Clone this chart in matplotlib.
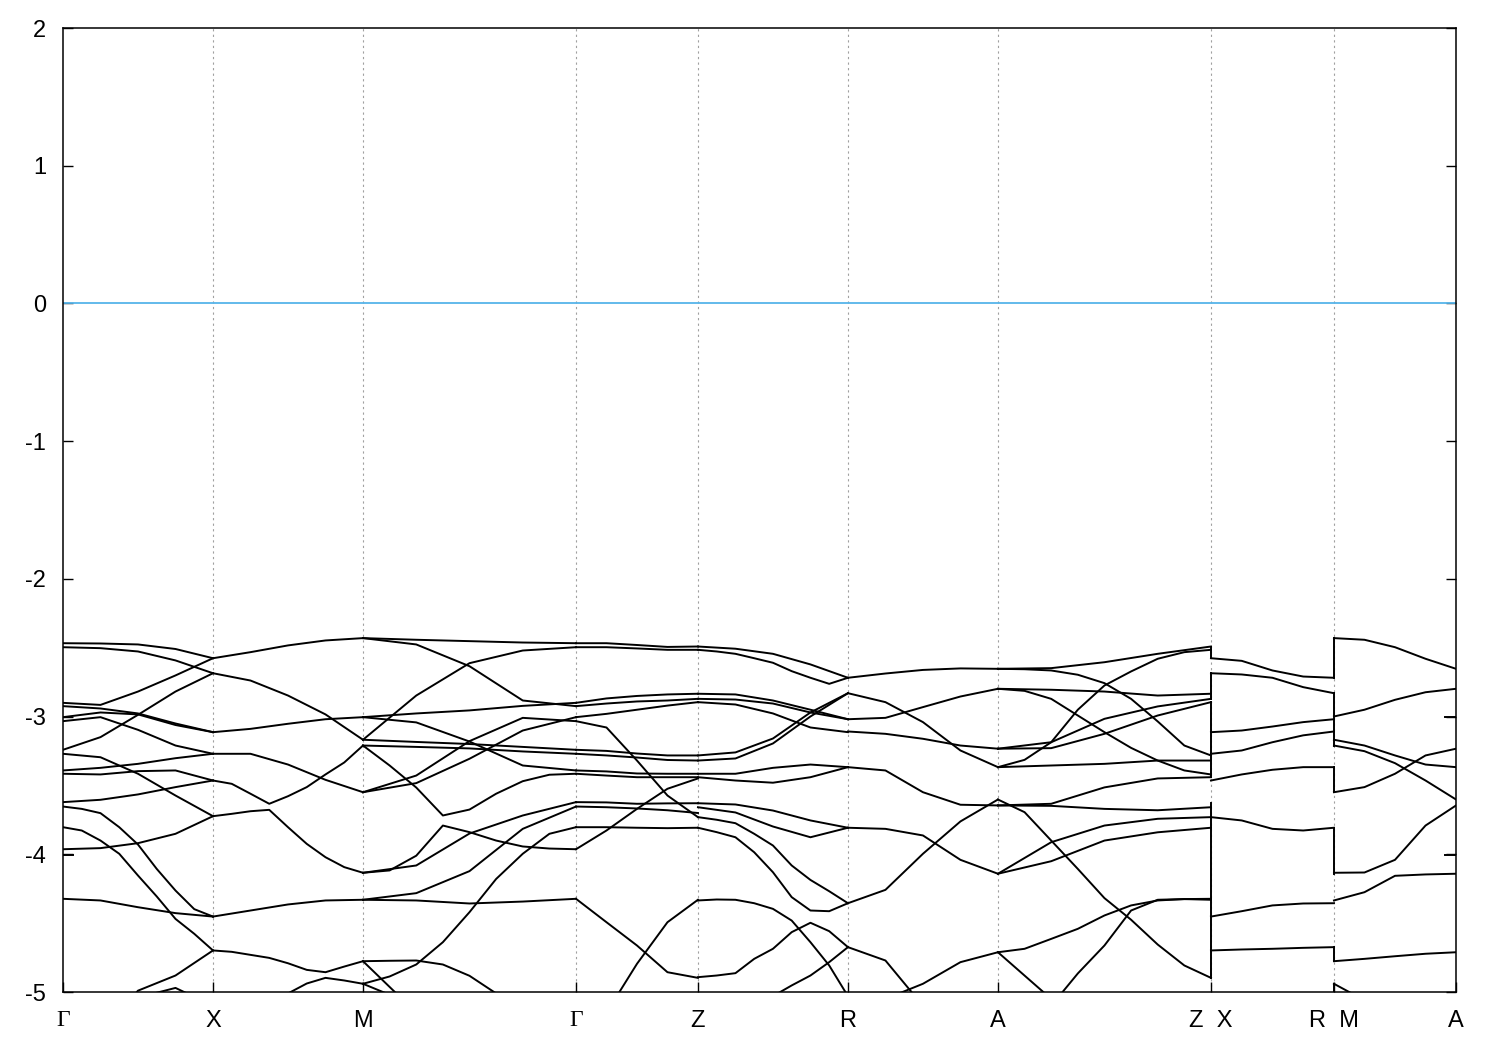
import matplotlib
matplotlib.use("Agg")
import matplotlib.pyplot as plt

# k-path: high symmetry points (path length units)
k_nodes = [0.0, 1.0, 2.0, 3.42, 4.233, 5.233, 6.233, 7.653, 8.473, 9.287]
k_labels = ["Γ", "X", "M", "Γ", "Z", "R", "A", "Z  X", "R  M", "A"]
# sample positions inside each segment (5 or 9 samples per band)
frac5 = [0.0, 0.25, 0.5, 0.75, 1.0]
frac9 = [0.0, 0.125, 0.25, 0.375, 0.5, 0.625, 0.75, 0.875, 1.0]

# band energies (eV) sampled along each segment
gx_bands = [
    [-2.467, -2.469, -2.476, -2.509, -2.576],
    [-2.496, -2.503, -2.527, -2.592, -2.685],
    [-2.900, -2.915, -2.818, -2.701, -2.576],
    [-3.241, -3.149, -2.987, -2.818, -2.685],
    [-2.924, -2.941, -2.977, -3.050, -3.113],
    [-3.004, -2.970, -2.984, -3.061, -3.113],
    [-3.033, -3.004, -3.096, -3.210, -3.270],
    [-3.270, -3.295, -3.415, -3.573, -3.723],
    [-3.391, -3.372, -3.343, -3.302, -3.270],
    [-3.415, -3.420, -3.396, -3.391, -3.464],
    [-3.621, -3.604, -3.565, -3.512, -3.464],
    [-3.653, -3.670, -3.701, -3.803, -3.929, -4.106, -4.263, -4.398, -4.452],
    [-3.803, -3.827, -3.900, -3.996, -4.154, -4.306, -4.469, -4.577, -4.698],
    [-3.963, -3.955, -3.919, -3.851, -3.723],
    [-4.323, -4.335, -4.384, -4.427, -4.452],
    [-5.600, -5.300, -4.990, -4.880, -4.698],
    [-5.600, -5.300, -5.040, -4.970, -5.100],
]

xm_bands = [
    [-2.576, -2.532, -2.483, -2.447, -2.430],
    [-2.685, -2.738, -2.847, -2.984, -3.168],
    [-3.113, -3.089, -3.052, -3.019, -3.004],
    [-3.270, -3.270, -3.348, -3.459, -3.549],
    [-3.464, -3.488, -3.560, -3.633, -3.578, -3.512, -3.420, -3.333, -3.210],
    [-3.723, -3.706, -3.687, -3.677, -3.803, -3.924, -4.021, -4.093, -4.134],
    [-4.452, -4.408, -4.364, -4.335, -4.330],
    [-4.698, -4.708, -4.730, -4.752, -4.791, -4.839, -4.856, -4.815, -4.776],
    [-5.600, -5.450, -5.300, -5.120, -5.010, -4.938, -4.897, -4.916, -4.940],
]

mg_bands = [
    [-2.430, -2.442, -2.452, -2.462, -2.467],
    [-3.168, -2.847, -2.612, -2.520, -2.496],
    [-2.430, -2.476, -2.634, -2.883, -2.924],
    [-3.004, -2.977, -2.955, -2.922, -2.900],
    [-3.004, -3.042, -3.181, -3.355, -3.391],
    [-3.168, -3.184, -3.199, -3.220, -3.241],
    [-3.210, -3.220, -3.231, -3.253, -3.270],
    [-3.210, -3.355, -3.515, -3.718, -3.675, -3.560, -3.469, -3.422, -3.415],
    [-3.549, -3.428, -3.178, -3.009, -3.033],
    [-3.549, -3.483, -3.306, -3.101, -3.004],
    [-4.134, -4.117, -4.010, -3.791, -3.839, -3.900, -3.943, -3.958, -3.963],
    [-4.134, -4.081, -3.849, -3.718, -3.621],
    [-4.330, -4.335, -4.357, -4.343, -4.323],
    [-4.330, -4.282, -4.122, -3.815, -3.653],
    [-4.776, -4.773, -4.771, -4.800, -4.882, -5.010, -5.200, -5.400, -5.600],
    [-4.940, -4.887, -4.800, -4.638, -4.420, -4.179, -3.996, -3.851, -3.803],
    [-4.776, -5.150, -5.500, -5.800, -6.000],
    [-4.940, -5.100, -5.400, -5.700, -6.000],
]

gz_bands = [
    [-2.467, -2.467, -2.480, -2.494, -2.491],
    [-2.496, -2.496, -2.505, -2.515, -2.515],
    [-2.900, -2.868, -2.850, -2.839, -2.834],
    [-2.924, -2.905, -2.890, -2.883, -2.871],
    [-3.004, -2.980, -2.950, -2.920, -2.895],
    [-3.033, -3.079, -3.319, -3.573, -3.730],
    [-3.241, -3.249, -3.268, -3.282, -3.282],
    [-3.270, -3.282, -3.297, -3.315, -3.319],
    [-3.391, -3.398, -3.413, -3.415, -3.415],
    [-3.415, -3.428, -3.440, -3.440, -3.440],
    [-3.963, -3.827, -3.670, -3.524, -3.449],
    [-3.621, -3.623, -3.633, -3.630, -3.629],
    [-3.653, -3.658, -3.667, -3.680, -3.700],
    [-3.803, -3.803, -3.807, -3.810, -3.807],
    [-4.323, -4.493, -4.662, -4.856, -4.897],
    [-5.500, -5.150, -4.795, -4.493, -4.330],
]

zr_bands = [
    [-2.491, -2.507, -2.544, -2.621, -2.718],
    [-2.515, -2.527, -2.544, -2.576, -2.609, -2.670, -2.718, -2.762, -2.718],
    [-2.834, -2.839, -2.883, -2.950, -3.019],
    [-2.871, -2.876, -2.905, -2.970, -3.019],
    [-2.895, -2.912, -2.977, -3.079, -3.113],
    [-3.282, -3.260, -3.159, -2.970, -2.830],
    [-3.319, -3.304, -3.195, -2.999, -2.830],
    [-3.415, -3.415, -3.372, -3.348, -3.367],
    [-3.440, -3.464, -3.480, -3.440, -3.367],
    [-3.629, -3.638, -3.682, -3.754, -3.807],
    [-3.658, -3.696, -3.798, -3.876, -3.807],
    [-3.730, -3.749, -3.774, -3.851, -3.936, -4.081, -4.186, -4.268, -4.355],
    [-3.807, -3.839, -3.876, -3.985, -4.130, -4.311, -4.408, -4.413, -4.355],
    [-4.335, -4.328, -4.330, -4.355, -4.396, -4.481, -4.638, -4.807, -5.030],
    [-4.892, -4.880, -4.863, -4.759, -4.686, -4.565, -4.497, -4.558, -4.674],
    [-5.600, -5.500, -5.350, -5.200, -5.030, -4.952, -4.880, -4.783, -4.674],
]

ra_bands = [
    [-2.718, -2.687, -2.661, -2.650, -2.653],
    [-2.830, -2.895, -3.040, -3.246, -3.367],
    [-3.019, -3.009, -2.931, -2.854, -2.798],
    [-3.108, -3.125, -3.161, -3.210, -3.233],
    [-3.367, -3.391, -3.549, -3.640, -3.645],
    [-3.807, -3.815, -3.863, -4.040, -4.141],
    [-4.355, -4.258, -3.996, -3.761, -3.602],
    [-4.674, -4.771, -5.100, -5.400, -5.600],
    [-5.500, -5.050, -4.940, -4.783, -4.711],
]

az_bands = [
    [-2.653, -2.648, -2.605, -2.544, -2.491],
    [-2.653, -2.656, -2.665, -2.696, -2.757, -2.871, -3.035, -3.210, -3.282],
    [-3.367, -3.314, -3.186, -2.950, -2.774, -2.672, -2.580, -2.532, -2.515],
    [-2.798, -2.805, -2.818, -2.847, -2.834],
    [-2.798, -2.813, -2.871, -2.992, -3.113, -3.227, -3.319, -3.391, -3.420],
    [-3.233, -3.186, -3.016, -2.926, -2.871],
    [-3.233, -3.229, -3.125, -2.992, -2.895],
    [-3.367, -3.355, -3.343, -3.319, -3.319],
    [-3.602, -3.694, -3.900, -4.106, -4.318, -4.475, -4.655, -4.807, -4.897],
    [-3.645, -3.633, -3.514, -3.449, -3.440],
    [-3.645, -3.648, -3.670, -3.680, -3.658],
    [-4.141, -3.912, -3.791, -3.742, -3.730],
    [-4.141, -4.050, -3.900, -3.840, -3.807],
    [-4.711, -4.686, -4.614, -4.541, -4.444, -4.371, -4.335, -4.325, -4.323],
    [-5.600, -5.300, -5.100, -4.865, -4.662, -4.408, -4.330, -4.325, -4.330],
    [-4.711, -5.050, -5.400, -5.700, -6.000],
]

xr_bands = [
    [-2.576, -2.595, -2.665, -2.709, -2.718],
    [-2.685, -2.694, -2.718, -2.786, -2.830],
    [-3.113, -3.101, -3.072, -3.040, -3.019],
    [-3.270, -3.246, -3.186, -3.136, -3.108],
    [-3.464, -3.420, -3.386, -3.367, -3.367],
    [-3.730, -3.754, -3.815, -3.827, -3.807],
    [-4.452, -4.413, -4.371, -4.357, -4.355],
    [-4.698, -4.691, -4.686, -4.679, -4.674],
]

ma_bands = [
    [-2.430, -2.442, -2.496, -2.580, -2.653],
    [-2.999, -2.950, -2.878, -2.823, -2.798],
    [-3.168, -3.210, -3.282, -3.348, -3.367],
    [-3.210, -3.251, -3.338, -3.464, -3.602],
    [-3.549, -3.512, -3.415, -3.282, -3.233],
    [-4.134, -4.132, -4.040, -3.791, -3.645],
    [-4.335, -4.275, -4.156, -4.146, -4.141],
    [-4.776, -4.759, -4.740, -4.722, -4.711],
    [-4.940, -5.060, -5.300, -5.500, -5.700],
]

# segment i runs from k_nodes[i] to k_nodes[i+1]
segments = [gx_bands, xm_bands, mg_bands, gz_bands, zr_bands,
            ra_bands, az_bands, xr_bands, ma_bands]

# discontinuities of the path: (node index, low, high)
jumps = [
    (7, -2.491, -2.576), (7, -2.685, -2.871), (7, -2.895, -3.440), (7, -3.629, -4.897),
    (8, -2.430, -2.718), (8, -2.830, -3.004), (8, -3.019, -3.210), (8, -3.367, -3.549),
    (8, -3.807, -4.141), (8, -4.674, -4.776), (8, -4.940, -5.100),
]

# short flat pieces at the plot edges: (k start, k end, energy)
edge_stubs = [(0.0, 0.065, -4.008), (9.215, 9.287, -3.004), (9.215, 9.287, -4.008)]

fig = plt.figure(figsize=(15, 10.5), dpi=100)
ax = fig.add_axes([0.042, 0.0552, 0.9287, 0.9181])

for i, bands in enumerate(segments):
    k0, k1 = k_nodes[i], k_nodes[i + 1]
    for b in bands:
        fr = frac9 if len(b) == 9 else frac5
        ks = [k0 + f * (k1 - k0) for f in fr]
        ax.plot(ks, b, color="black", lw=1.4, solid_joinstyle="round")

for node, lo, hi in jumps:
    ax.plot([k_nodes[node], k_nodes[node]], [lo, hi], color="black", lw=1.4)

for ka, kb, e in edge_stubs:
    ax.plot([ka, kb], [e, e], color="black", lw=1.4)

# fermi level
ax.axhline(0, color="#56b4e9", lw=1.3)

# high symmetry lines
for k in k_nodes[1:-1]:
    ax.axvline(k, color="#a0a0a0", lw=0.8, ls=(0, (2, 3)), zorder=0)

ax.set_xlim(k_nodes[0], k_nodes[-1])
ax.set_ylim(-5, 2)
ax.set_yticks(range(-5, 3))
ax.set_yticklabels([str(v) for v in range(-5, 3)])
ax.set_xticks(k_nodes)
ax.set_xticklabels(k_labels)
for lab in ax.get_xticklabels():
    if lab.get_text() == "Γ":
        lab.set_fontfamily("Liberation Serif")
    else:
        lab.set_fontfamily("Liberation Sans")
for lab in ax.get_yticklabels():
    lab.set_fontfamily("Liberation Sans")

ax.tick_params(axis="y", direction="in", length=7, width=1, left=True, right=True,
               labelsize=17, pad=12)
ax.tick_params(axis="x", direction="in", length=7, width=1, bottom=True, top=False,
               labelsize=17, pad=13)
for s in ax.spines.values():
    s.set_linewidth(1.1)

fig.savefig("out.png", dpi=100)
